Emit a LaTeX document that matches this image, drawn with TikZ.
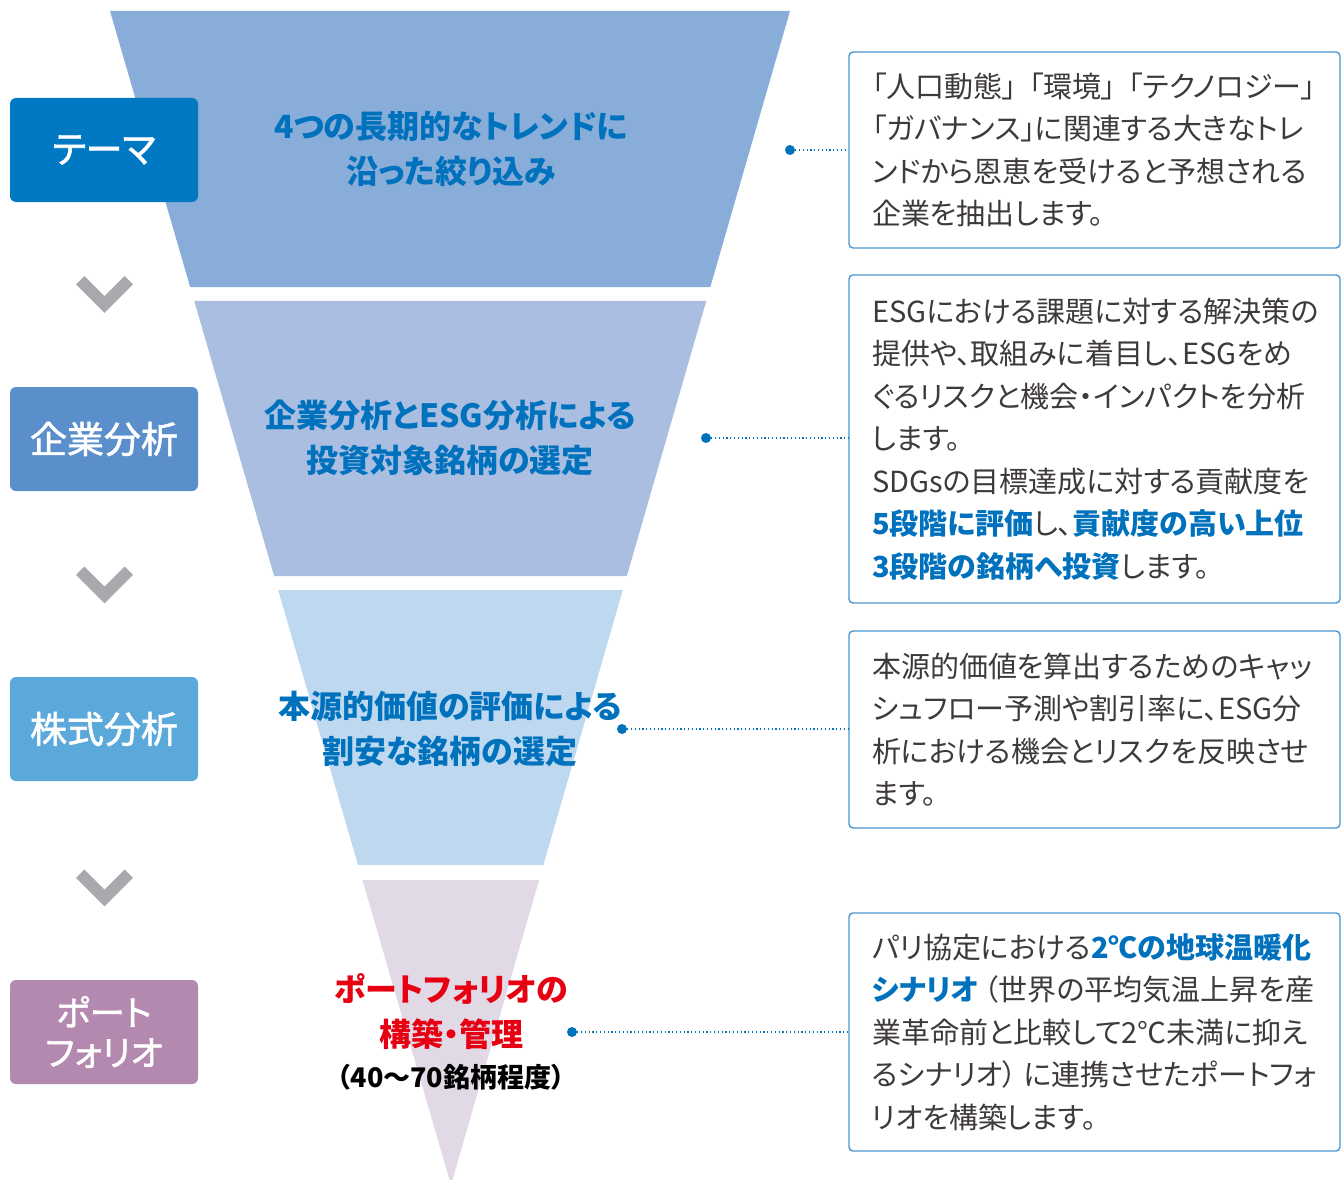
\documentclass[tikz,border=0pt]{standalone}
\usepackage{fontspec}
\setmainfont{Noto Sans CJK JP}[RawFeature=+palt]
\newfontfamily\labelfont{Noto Sans CJK JP}[RawFeature=+palt, FakeBold=1.6]
\usetikzlibrary{calc}
\definecolor{cTheme}{RGB}{0,121,194}
\definecolor{cKigyo}{RGB}{91,143,203}
\definecolor{cKabu}{RGB}{91,169,219}
\definecolor{cPort}{RGB}{179,137,176}
\definecolor{bandA}{RGB}{137,173,217}
\definecolor{bandB}{RGB}{169,190,224}
\definecolor{bandC}{RGB}{189,216,239}
\definecolor{bandD}{RGB}{225,217,230}
\definecolor{tBlue}{RGB}{0,113,188}
\definecolor{tRed}{RGB}{230,0,18}
\definecolor{tBody}{RGB}{62,58,57}
\definecolor{boxLine}{RGB}{74,151,208}
\definecolor{chevGray}{RGB}{167,169,172}
\tikzset{
  lbox/.style={rounded corners=6pt, minimum width=188pt, minimum height=104pt, inner sep=0pt,
    text=white, align=center, font=\labelfont\fontsize{37}{42}\selectfont},
  infobox/.style={draw=boxLine, line width=1.4pt, rounded corners=4pt, fill=white,
    text width=445pt, inner xsep=23pt, inner ysep=0pt, align=left, text=tBody,
    font=\fontsize{29}{42.5}\selectfont},
  funtext/.style={text=tBlue, align=center, font=\bfseries\fontsize{32}{45}\selectfont},
  chev/.style={draw=chevGray, line width=12pt, line join=miter},
  dotnode/.style={circle, fill=tBlue, minimum size=10pt, inner sep=0pt},
  dotline/.style={draw=tBlue, line width=1.2pt, dash pattern=on 1.2pt off 2.6pt},
}
\newcommand{\hl}[1]{\textcolor{tBlue}{\bfseries #1}}
\begin{document}
\begin{tikzpicture}[x=1pt,y=-1pt]
\useasboundingbox (0,0) rectangle (1341,1180);
\coordinate (A) at (110,11);
\coordinate (B) at (790,11);
\coordinate (P) at (451,1185);
% funnel bands
\begin{scope}
\clip (0,0) rectangle (1341,1180);
\fill[bandA] ($(A)!0!(P)$) -- ($(B)!0!(P)$) -- ($(B)!0.2351!(P)$) -- ($(A)!0.2351!(P)$) -- cycle;
\fill[bandB] ($(A)!0.2470!(P)$) -- ($(B)!0.2470!(P)$) -- ($(B)!0.4813!(P)$) -- ($(A)!0.4813!(P)$) -- cycle;
\fill[bandC] ($(A)!0.4932!(P)$) -- ($(B)!0.4932!(P)$) -- ($(B)!0.7274!(P)$) -- ($(A)!0.7274!(P)$) -- cycle;
\fill[bandD] ($(A)!0.7402!(P)$) -- ($(B)!0.7402!(P)$) -- (P) -- cycle;
\end{scope}
% left labels
\node[lbox, fill=cTheme] (l1) at (104,150) {テーマ};
\node[lbox, fill=cKigyo] (l2) at (104,439) {企業分析};
\node[lbox, fill=cKabu] (l3) at (104,729) {株式分析};
\node[lbox, fill=cPort, font=\labelfont\fontsize{35}{40}\selectfont] (l4) at (104,1032) {ポート\\フォリオ};
% chevrons
\draw[chev] (80.2,280.2) -- (104.5,304.5) -- (128.8,280.2);
\draw[chev] (80.2,570.7) -- (104.5,595) -- (128.8,570.7);
\draw[chev] (80.2,873.7) -- (104.5,898) -- (128.8,873.7);
% funnel texts
\node[funtext] (f1) at (451,149) {4つの長期的なトレンドに\\沿った絞り込み};
\node[funtext] (f2) at (450,438) {企業分析とESG分析による\\投資対象銘柄の選定};
\node[funtext] (f3) at (450,729) {本源的価値の評価による\\割安な銘柄の選定};
\node[funtext, text=tRed] (f4) at (451,1011.5) {ポートフォリオの\\構築・管理};
\node[text=black, font=\bfseries\fontsize{27}{30}\selectfont] (f5) at (451,1077) {（40〜70銘柄程度）};
% info boxes
\node[infobox, minimum height=196pt] (b1) at (1094.5,150) {「人口動態」\hspace{12pt}「環境」\hspace{12pt}「テクノロジー」\\「ガバナンス」に関連する大きなトレ\\ンドから恩恵を受けると予想される\\企業を抽出します。};
\node[infobox, minimum height=328pt] (b2) at (1094.5,439) {ESGにおける課題に対する解決策の\\提供や、取組みに着目し、ESGをめ\\ぐるリスクと機会・インパクトを分析\\します。\\SDGsの目標達成に対する貢献度を\\\hl{5段階に評価}し、\hl{貢献度の高い上位}\\\hl{3段階の銘柄へ投資}します。};
\node[infobox, minimum height=197pt] (b3) at (1094.5,729.5) {本源的価値を算出するためのキャッ\\シュフロー予測や割引率に、ESG分\\析における機会とリスクを反映させ\\ます。};
\node[infobox, minimum height=238pt] (b4) at (1094.5,1032) {パリ協定における\hl{2℃の地球温暖化}\\\hl{シナリオ}\hspace{6pt}（世界の平均気温上昇を産\\業革命前と比較して2℃未満に抑え\\るシナリオ）\hspace{6pt}に連携させたポートフォ\\リオを構築します。};
% dots and connectors
\node[dotnode] (d1) at (790,150) {};
\node[dotnode] (d2) at (706,438) {};
\node[dotnode] (d3) at (622,729) {};
\node[dotnode] (d4) at (572,1032) {};
\draw[dotline] (d1) -- (d1 -| b1.west);
\draw[dotline] (d2) -- (d2 -| b2.west);
\draw[dotline] (d3) -- (d3 -| b3.west);
\draw[dotline] (d4) -- (d4 -| b4.west);
\end{tikzpicture}
\end{document}
